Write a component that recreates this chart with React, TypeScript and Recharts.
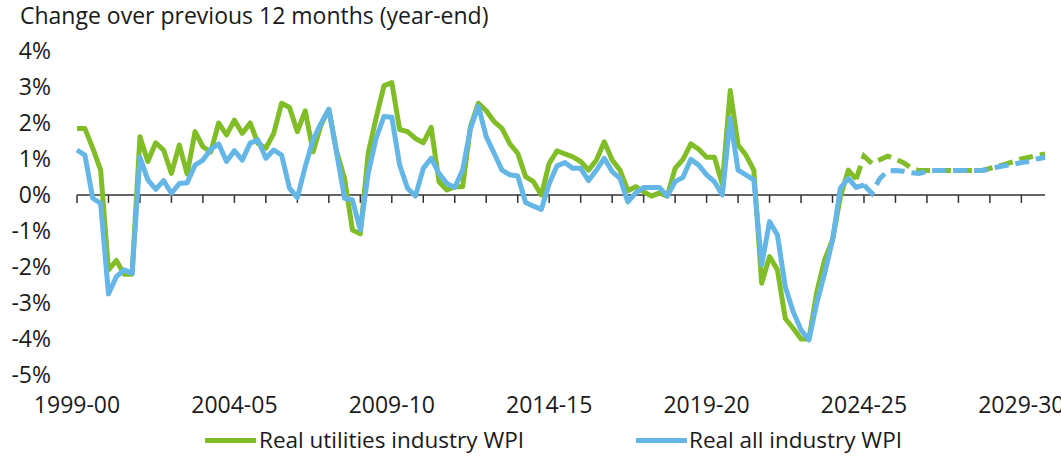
import React from "react";
import { LineChart, Line, XAxis, YAxis, ReferenceLine, Legend } from "recharts";

// quarterly observations, first point sits on the 1999-00 tick
const utilitiesActual = [
  1.85, 1.85, 1.3, 0.7, -2.08, -1.82, -2.2, -2.2, 1.62, 0.93,
  1.45, 1.25, 0.6, 1.39, 0.58, 1.76, 1.34, 1.2, 2.0, 1.67,
  2.08, 1.71, 2.0, 1.43, 1.3, 1.71, 2.55, 2.43, 1.76, 2.34,
  1.2, 1.94, 2.38, 1.2, 0.45, -0.97, -1.08, 1.16, 2.13, 3.03,
  3.12, 1.82, 1.76, 1.57, 1.45, 1.88, 0.37, 0.14, 0.23, 0.23,
  1.9, 2.55, 2.34, 2.04, 1.85, 1.42, 1.16, 0.51, 0.37, 0.0,
  0.88, 1.23, 1.14, 1.06, 0.93, 0.69, 0.97, 1.48, 0.97, 0.69,
  0.12, 0.23, 0.09, -0.03, 0.06, -0.03, 0.74, 0.99, 1.42, 1.27,
  1.05, 1.05, 0.3, 2.9, 1.39, 1.11, 0.69, -2.45, -1.71, -2.08,
  -3.43, -3.7, -4.0, -4.0, -2.7, -1.8, -1.25, -0.05, 0.69, 0.44,
];

// projection starts at the last actual quarter (index 99)
const utilitiesProjection = [
  0.44, 1.08, 0.88, 0.98, 1.08, 1.0, 0.9, 0.75, 0.68, 0.68,
  0.68, 0.68, 0.68, 0.68, 0.68, 0.68, 0.68, 0.74, 0.8, 0.86,
  0.93, 1.0, 1.05, 1.1, 1.14,
];

const allActual = [
  1.25, 1.11, -0.09, -0.23, -2.75, -2.27, -2.08, -2.18, 1.05, 0.42,
  0.16, 0.4, 0.05, 0.32, 0.34, 0.83, 0.97, 1.27, 1.42, 0.93,
  1.23, 0.97, 1.44, 1.53, 1.02, 1.25, 1.11, 0.19, -0.07, 0.79,
  1.53, 1.99, 2.38, 1.16, -0.09, -0.14, -0.97, 0.6, 1.57, 2.18,
  2.16, 0.83, 0.19, -0.03, 0.74, 1.02, 0.6, 0.32, 0.21, 0.69,
  1.85, 2.47, 1.62, 1.16, 0.69, 0.56, 0.53, -0.21, -0.31, -0.4,
  0.32, 0.81, 0.9, 0.74, 0.74, 0.4, 0.69, 1.02, 0.65, 0.46,
  -0.19, 0.06, 0.21, 0.21, 0.21, -0.03, 0.37, 0.49, 0.99, 0.83,
  0.56, 0.37, 0.0, 2.13, 0.69, 0.56, 0.42, -1.94, -0.74, -1.11,
  -2.55, -3.24, -3.75, -4.03, -3.0, -2.18, -1.25, 0.19, 0.46, 0.21,
  0.28,
];

// projection starts at the last actual quarter (index 100)
const allProjection = [
  0.28, 0.05, 0.45, 0.67, 0.68, 0.66, 0.62, 0.6, 0.66, 0.68,
  0.68, 0.68, 0.68, 0.68, 0.68, 0.68, 0.72, 0.78, 0.82, 0.86,
  0.9, 0.93, 1.0, 1.05,
];

const yearLabels = ["1999-00", "2004-05", "2009-10", "2014-15", "2019-20", "2024-25", "2029-30"];
const yTicks = [-5, -4, -3, -2, -1, 0, 1, 2, 3, 4];

const GREEN = "#80bd26";
const BLUE = "#64b6e6";
const INK = "#1a1a1a";
const FONT = "'Open Sans', sans-serif";

const utilProjStart = utilitiesActual.length - 1;
const allProjStart = allActual.length - 1;
const nPoints = utilProjStart + utilitiesProjection.length;

const data = Array.from({ length: nPoints }, (_, i) => ({
  t: i / 4,
  utilities: i < utilitiesActual.length ? utilitiesActual[i] : null,
  utilitiesProj: i >= utilProjStart ? utilitiesProjection[i - utilProjStart] : null,
  all: i < allActual.length ? allActual[i] : null,
  allProj: i >= allProjStart ? allProjection[i - allProjStart] : null,
}));

const yearTicks = Array.from({ length: 31 }, (_, k) => k);
const labelTicks = yearLabels.map((_, k) => k * 5);

function LegendBox() {
  const swatch = (color: string, left: number) => (
    <div style={{ position: "absolute", left, top: 13, width: 51, height: 5, background: color }} />
  );
  const label = (text: string, left: number) => (
    <div style={{ position: "absolute", left, top: 0, lineHeight: "30px", whiteSpace: "nowrap" }}>{text}</div>
  );
  return (
    <div style={{ position: "relative", width: 1061, height: 30, fontSize: 22.5, color: INK, fontFamily: FONT }}>
      {swatch(GREEN, 205)}
      {label("Real utilities industry WPI", 259)}
      {swatch(BLUE, 636)}
      {label("Real all industry WPI", 689)}
    </div>
  );
}

export default function App() {
  return (
    <div style={{ position: "absolute", left: 0, top: 0, width: 1061, height: 457, background: "#fff", fontFamily: FONT }}>
      <div style={{ position: "absolute", left: 20, top: 2, fontSize: 23, lineHeight: "26px", color: INK, whiteSpace: "nowrap" }}>
        Change over previous 12 months (year-end)
      </div>
      <LineChart width={1061} height={457} data={data} margin={{ top: 51, right: 16, left: 17, bottom: 2 }}>
        <XAxis
          dataKey="t"
          type="number"
          domain={[0, 30.75]}
          ticks={labelTicks}
          tickFormatter={(v: number) => yearLabels[Math.round(v / 5)] ?? ""}
          axisLine={false}
          tickLine={false}
          tickSize={0}
          tickMargin={22}
          height={50}
          interval={0}
          tick={{ fontSize: 23, fill: INK, fontFamily: FONT }}
        />
        <YAxis
          type="number"
          domain={[-5, 4]}
          ticks={yTicks}
          tickFormatter={(v: number) => `${v}%`}
          axisLine={false}
          tickLine={false}
          tickSize={0}
          tickMargin={26}
          width={60}
          interval={0}
          tick={{ fontSize: 23, fill: INK, fontFamily: FONT }}
        />
        <ReferenceLine y={0} stroke="#333333" strokeWidth={1.5} />
        {yearTicks.map((k) => (
          <ReferenceLine
            key={k}
            segment={[
              { x: k, y: 0 },
              { x: k, y: -0.22 },
            ]}
            stroke="#333333"
            strokeWidth={1.5}
          />
        ))}
        <Line dataKey="utilities" stroke={GREEN} strokeWidth={5} dot={false} isAnimationActive={false} strokeLinejoin="round" />
        <Line dataKey="utilitiesProj" stroke={GREEN} strokeWidth={5} strokeDasharray="14 7" dot={false} isAnimationActive={false} />
        <Line dataKey="all" stroke={BLUE} strokeWidth={5} dot={false} isAnimationActive={false} strokeLinejoin="round" />
        <Line dataKey="allProj" stroke={BLUE} strokeWidth={5} strokeDasharray="14 7" dot={false} isAnimationActive={false} />
        <Legend verticalAlign="bottom" content={() => <LegendBox />} wrapperStyle={{ left: 0, width: 1061, height: 30 }} />
      </LineChart>
    </div>
  );
}
